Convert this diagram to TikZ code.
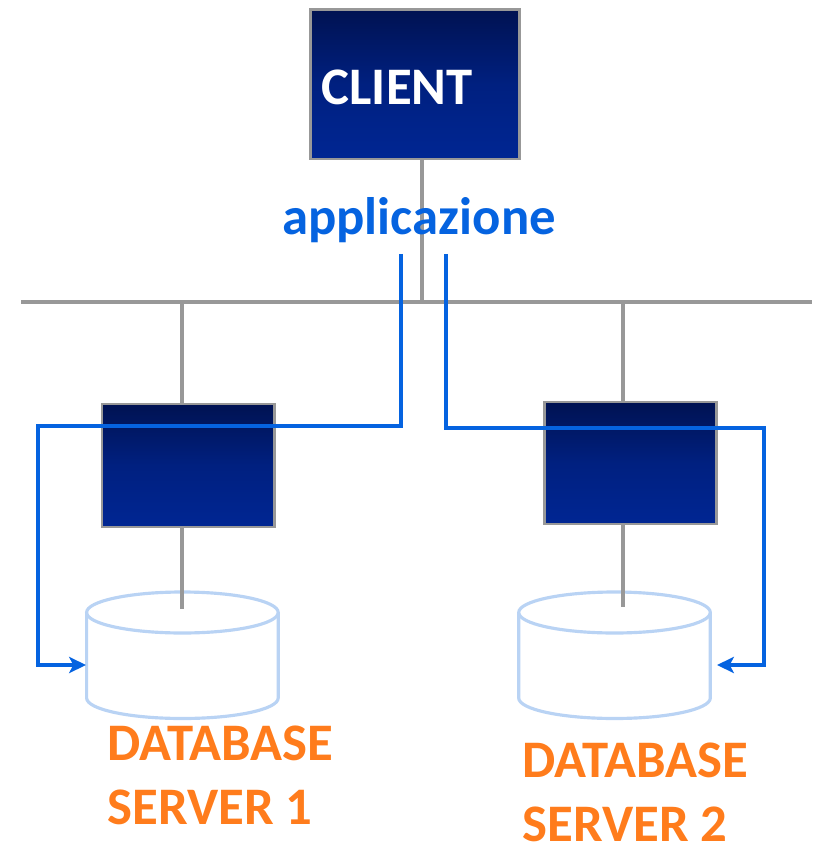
\documentclass[tikz,border=0pt]{standalone}
\usepackage{fontspec}
\setmainfont{Carlito}
\usetikzlibrary{arrows.meta}
\definecolor{boxtop}{HTML}{001252}
\definecolor{boxmid}{HTML}{002080}
\definecolor{boxbot}{HTML}{002693}
\definecolor{linegray}{HTML}{989898}
\definecolor{pathblue}{HTML}{0563E0}
\definecolor{dbblue}{HTML}{B9D3F4}
\definecolor{dborange}{HTML}{FF7C1C}
\tikzset{
    hostbox/.style={draw=linegray, line width=0.85pt, top color=boxtop, bottom color=boxbot, middle color=boxmid, inner sep=0pt},
    wire/.style={draw=linegray, line width=0.9pt},
    flow/.style={draw=pathblue, line width=0.88pt},
    flowtip/.style={-{Stealth[length=4.8pt, width=4.6pt, inset=1.2pt]}},
    dbdisk/.style={draw=dbblue, line width=0.9pt, x radius=95.8, y radius=20.5},
    dblabel/.style={text=dborange, font=\fontsize{15pt}{18.2pt}\selectfont\bfseries, align=left, anchor=base west, inner sep=0pt}
}
\begin{document}
\begin{tikzpicture}[x=0.01cm, y=0.01cm]
    \useasboundingbox (0,0) rectangle (812,-843);

    \coordinate (busl) at (21,-302);
    \coordinate (busr) at (812,-302);
    \coordinate (busc) at (422,-302);
    \coordinate (bus1) at (182,-302);
    \coordinate (bus2) at (623,-302);
    \coordinate (clientport) at (422,-159);
    \coordinate (port1) at (182,-609);
    \coordinate (port2) at (623,-607);
    \coordinate (db1) at (182.4,-612.5);
    \coordinate (db2) at (614.5,-612.5);

    % database drums
    \draw[dbdisk] (db1) circle;
    \draw[dbdisk] (db1) ++(-95.8,0) -- ++(0,-85.5) arc[start angle=180, end angle=360] -- ++(0,85.5);
    \draw[dbdisk] (db2) circle;
    \draw[dbdisk] (db2) ++(-95.8,0) -- ++(0,-85.5) arc[start angle=180, end angle=360] -- ++(0,85.5);

    \node (client) at (414.5,-84.5) [hostbox, minimum width=209*0.01cm, minimum height=149*0.01cm] {};
    \node (server1) at (188,-465.5) [hostbox, minimum width=172*0.01cm, minimum height=123*0.01cm] {};
    \node (server2) at (630,-463) [hostbox, minimum width=172*0.01cm, minimum height=122*0.01cm] {};

    \draw[wire] (busl) -- (busr);
    \draw[wire] (clientport) -- (busc);
    \draw[wire] (bus1) -- (bus1 |- server1.north);
    \draw[wire] (bus2) -- (bus2 |- server2.north);
    \draw[wire] (port1 |- server1.south) -- (port1);
    \draw[wire] (port2 |- server2.south) -- (port2);

    \node (clientlabel) at (321,-105) [anchor=base west, inner sep=0pt, text=white, font=\fontsize{15pt}{18pt}\selectfont\bfseries] {CLIENT};
    \node (app) at (419,-235) [anchor=base, inner sep=0pt, text=pathblue, font=\fontsize{15pt}{18pt}\selectfont\bfseries] {applicazione};
    \node (label1) at (107,-824) [dblabel] {DATABASE\\SERVER 1};
    \node (label2) at (522,-841) [dblabel] {DATABASE\\SERVER 2};

    \coordinate (start1) at (401,-254);
    \coordinate (start2) at (446,-254);
    \coordinate (bend1) at (38,-426);
    \coordinate (bend2) at (764,-428);
    \coordinate (end1) at (86,-665);
    \coordinate (end2) at (717,-665);

    \draw[flow, flowtip] (start1) |- (bend1) |- (end1);
    \draw[flow, flowtip] (start2) |- (bend2) |- (end2);
\end{tikzpicture}
\end{document}
